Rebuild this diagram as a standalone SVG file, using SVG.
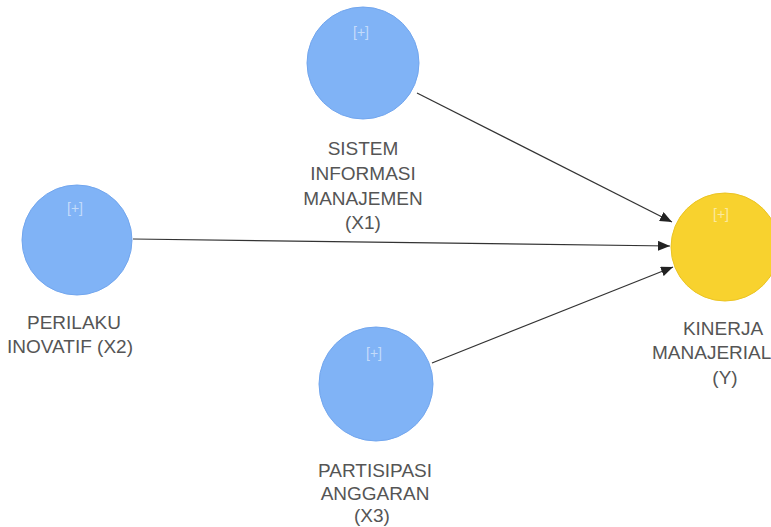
<svg xmlns="http://www.w3.org/2000/svg" width="771" height="527" viewBox="0 0 771 527">
<style>
.lv{fill:#80b3f6;stroke:#72a6ee;stroke-width:1}
.ly{fill:#f8d22e;stroke:#ebc424;stroke-width:1}
.lbl{font-family:"Liberation Sans",Arial,sans-serif;font-size:19px;fill:#555555;text-anchor:middle}
.pl{font-family:"Liberation Sans",Arial,sans-serif;font-size:14px;fill:#ffffff;fill-opacity:0.55;text-anchor:middle}
.e{stroke:#333;stroke-width:1.2;fill:none;marker-end:url(#ah)}
</style>
<defs>
<marker id="ah" markerWidth="12" markerHeight="10" refX="12" refY="5" orient="auto" markerUnits="userSpaceOnUse">
<path d="M0,0 L12,5 L0,10 z" fill="#222"/>
</marker>
</defs>
<rect width="771" height="527" fill="#ffffff"/>
<g id="connectors">
<line class="e" x1="417" y1="93" x2="672" y2="222"/>
<line class="e" x1="133" y1="239" x2="670" y2="246"/>
<line class="e" x1="432" y1="363" x2="673" y2="267"/>
</g>
<g id="X1">
<circle class="lv" cx="363" cy="63" r="56"/>
<text class="pl" x="361" y="37">[+]</text>
<text class="lbl" x="363" y="155">SISTEM</text>
<text class="lbl" x="363" y="180">INFORMASI</text>
<text class="lbl" x="363" y="205">MANAJEMEN</text>
<text class="lbl" x="363" y="229">(X1)</text>
</g>
<g id="X2">
<circle class="lv" cx="77" cy="240" r="55"/>
<text class="pl" x="75" y="213">[+]</text>
<text class="lbl" x="74" y="329">PERILAKU</text>
<text class="lbl" x="70" y="353">INOVATIF (X2)</text>
</g>
<g id="X3">
<circle class="lv" cx="376" cy="384" r="57"/>
<text class="pl" x="374" y="358">[+]</text>
<text class="lbl" x="375" y="477">PARTISIPASI</text>
<text class="lbl" x="375" y="500">ANGGARAN</text>
<text class="lbl" x="372" y="522">(X3)</text>
</g>
<g id="Y">
<circle class="ly" cx="725" cy="247" r="54"/>
<text class="pl" x="721" y="219">[+]</text>
<text class="lbl" x="723" y="335">KINERJA</text>
<text class="lbl" x="652" y="359" style="text-anchor:start">MANAJERIAL</text>
<text class="lbl" x="725" y="384">(Y)</text>
</g>
</svg>
